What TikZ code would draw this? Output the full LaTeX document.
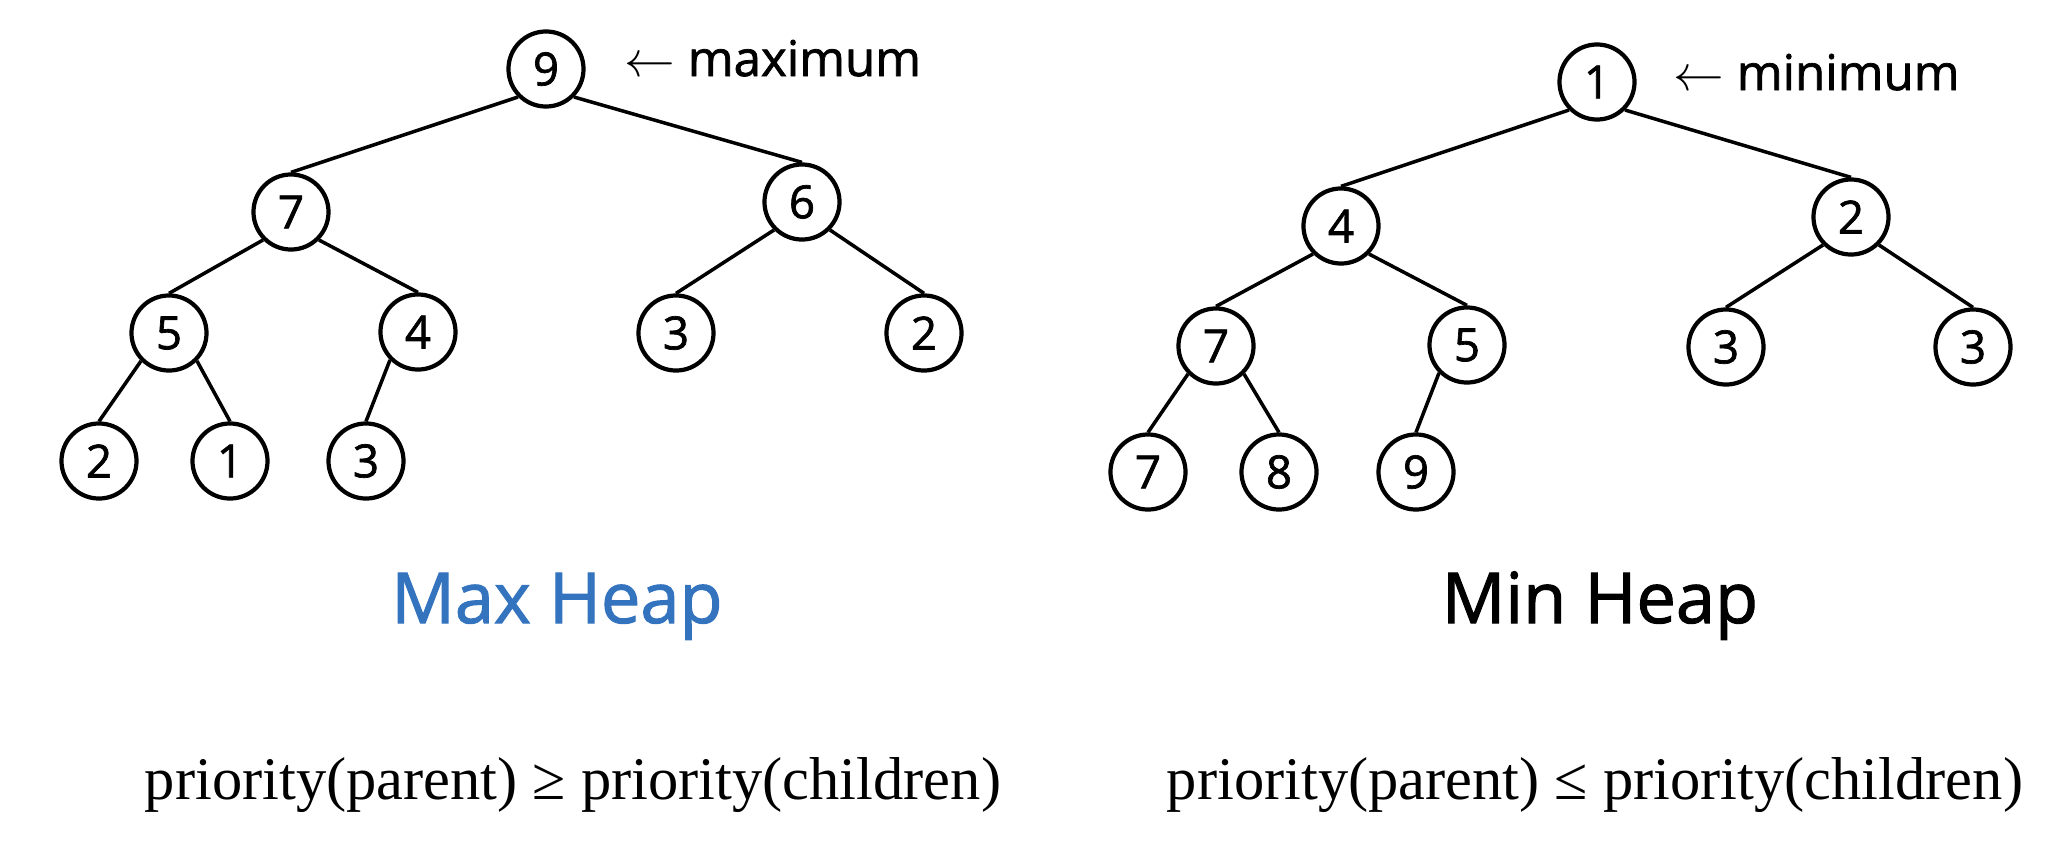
\documentclass[tikz,border=0pt]{standalone}
\usepackage{fontspec}
\setmainfont{Open Sans}[FakeBold=1.5]
\newfontfamily\formulafont{Liberation Serif}
\definecolor{heapblue}{RGB}{52,115,190}

\begin{document}
\begin{tikzpicture}[x=0.01cm, y=-0.01cm,
        heapnode/.style={circle, draw=black, line width=1.2pt, minimum size=0.75cm, inner sep=0pt, font=\fontsize{13}{15}\selectfont},
        heapedge/.style={line width=1pt},
        note/.style={anchor=base west, font=\fontsize{14}{17}\selectfont},
        title/.style={anchor=base, font=\fontsize{20}{24}\selectfont},
        rule/.style={anchor=base, font=\formulafont\fontsize{17.2}{20}\selectfont}]
        \useasboundingbox (0, 0) rectangle (2050, 842);
        % max heap
        \node[heapnode] (a9) at (546, 69) {9};
        \node[heapnode] (a7) at (291, 212) {7};
        \node[heapnode] (a6) at (802, 202) {6};
        \node[heapnode] (a5) at (169, 333) {5};
        \node[heapnode] (a4) at (418, 332) {4};
        \node[heapnode] (a3) at (676, 333) {3};
        \node[heapnode] (a2) at (924, 333) {2};
        \node[heapnode] (b2) at (99, 461) {2};
        \node[heapnode] (b1) at (230, 461) {1};
        \node[heapnode] (b3) at (366, 461) {3};
        \node[note] (maxlabel) at (612, 76) {$\leftarrow$ maximum};
        \draw[heapedge] (a9.south west) -- (a7.north);
        \draw[heapedge] (a9.south east) -- (a6.north);
        \draw[heapedge] (a7.south west) -- (a5.north);
        \draw[heapedge] (a7.south east) -- (a4.north);
        \draw[heapedge] (a6.south west) -- (a3.north);
        \draw[heapedge] (a6.south east) -- (a2.north);
        \draw[heapedge] (a5.south west) -- (b2.north);
        \draw[heapedge] (a5.south east) -- (b1.north);
        \draw[heapedge] (a4.south west) -- (b3.north);
        \node[title, text=heapblue] (maxtitle) at (557, 623) {Max Heap};
        \node[rule] (maxrule) at (573, 799) {priority(parent) ≥ priority(children)};
        % min heap
        \node[heapnode] (m1) at (1597, 82) {1};
        \node[heapnode] (m4) at (1341, 226) {4};
        \node[heapnode] (m2) at (1851, 217) {2};
        \node[heapnode] (m7) at (1216, 346) {7};
        \node[heapnode] (m5) at (1467, 345) {5};
        \node[heapnode] (m3) at (1726, 347) {3};
        \node[heapnode] (n3) at (1973, 347) {3};
        \node[heapnode] (n7) at (1148, 472) {7};
        \node[heapnode] (n8) at (1279, 472) {8};
        \node[heapnode] (n9) at (1416, 472) {9};
        \node[note] (minlabel) at (1661, 90) {$\leftarrow$ minimum};
        \draw[heapedge] (m1.south west) -- (m4.north);
        \draw[heapedge] (m1.south east) -- (m2.north);
        \draw[heapedge] (m4.south west) -- (m7.north);
        \draw[heapedge] (m4.south east) -- (m5.north);
        \draw[heapedge] (m2.south west) -- (m3.north);
        \draw[heapedge] (m2.south east) -- (n3.north);
        \draw[heapedge] (m7.south west) -- (n7.north);
        \draw[heapedge] (m7.south east) -- (n8.north);
        \draw[heapedge] (m5.south west) -- (n9.north);
        \node[title] (mintitle) at (1600, 623) {Min Heap};
        \node[rule] (minrule) at (1595, 799) {priority(parent) ≤ priority(children)};
\end{tikzpicture}
\end{document}
